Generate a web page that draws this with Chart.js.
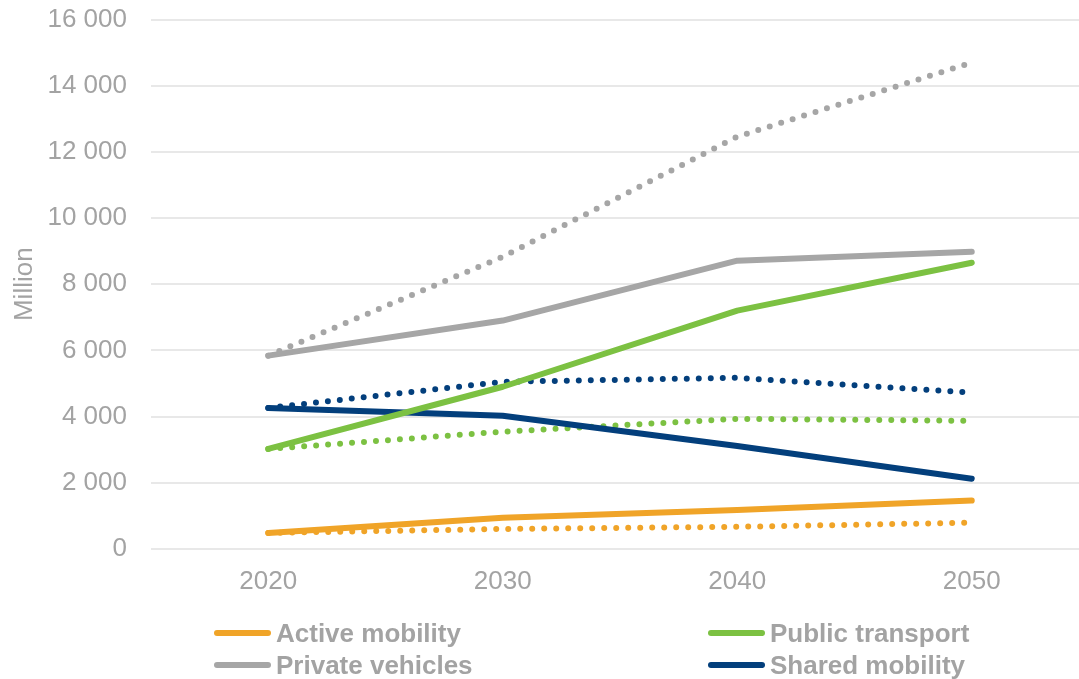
<!DOCTYPE html>
<html>
<head>
<meta charset="utf-8">
<script src="https://cdn.jsdelivr.net/npm/chart.js@4/dist/chart.umd.min.js"></script>
<style>
  html, body { margin: 0; padding: 0; background: #fff; overflow: hidden; }
  #wrap { position: relative; width: 1079px; height: 679px; overflow: hidden; }
  #chart { position: absolute; left: 0; top: -20px; }
  .legend { position: absolute; left: 0; top: 0; width: 1079px; height: 679px; pointer-events: none;
            font-family: "Liberation Sans", Arial, sans-serif; font-weight: bold; font-size: 26px; color: #a3a3a3; }
  .legend .item { position: absolute; display: flex; align-items: center; height: 32px; white-space: nowrap; }
  .legend .swatch { width: 57px; height: 6px; border-radius: 3px; margin-right: 5px; }
</style>
</head>
<body>
<div id="wrap">
  <canvas id="chart" width="1092" height="699"></canvas>
  <div class="legend" id="legend"></div>
</div>
<script>
// Years on the category axis
const years = ['2020', '2030', '2040', '2050'];

// Passenger volumes (million) — solid lines
const activeMobility   = [480, 940, 1170, 1460];
const publicTransport  = [3020, 4900, 7200, 8650];
const privateVehicles  = [5840, 6900, 8710, 8980];
const sharedMobility   = [4260, 4020, 3110, 2120];

// Alternative trajectory — dotted lines
const activeMobilityAlt   = [480, 600, 665, 790];
const publicTransportAlt  = [3020, 3540, 3930, 3870];
const privateVehiclesAlt  = [5840, 8830, 12460, 14700];
const sharedMobilityAlt   = [4260, 5050, 5170, 4720];

// Value axis ticks
const yTicks = [0, 2000, 4000, 6000, 8000, 10000, 12000, 14000, 16000];

const colors = {
  active: '#f0a428',
  publicT: '#7cc142',
  privateV: '#a6a6a6',
  shared: '#033f7c'
};

const solid = (label, data, color) => ({
  label, data, borderColor: color, backgroundColor: color,
  borderWidth: 6, borderCapStyle: 'round', borderJoinStyle: 'round',
  pointRadius: 0, pointHoverRadius: 0, tension: 0, fill: false, inLegend: true
});
const dotted = (label, data, color) => ({
  label, data, borderColor: color, backgroundColor: color,
  borderWidth: 6, borderCapStyle: 'round', borderJoinStyle: 'round',
  borderDash: [0, 12], pointRadius: 0, pointHoverRadius: 0, tension: 0, fill: false, inLegend: false
});

const datasets = [
  solid('Active mobility', activeMobility, colors.active),
  solid('Public transport', publicTransport, colors.publicT),
  solid('Private vehicles', privateVehicles, colors.privateV),
  solid('Shared mobility', sharedMobility, colors.shared),
  dotted('Active mobility (alt.)', activeMobilityAlt, colors.active),
  dotted('Public transport (alt.)', publicTransportAlt, colors.publicT),
  dotted('Private vehicles (alt.)', privateVehiclesAlt, colors.privateV),
  dotted('Shared mobility (alt.)', sharedMobilityAlt, colors.shared)
];

const tickFont = { family: '"Liberation Sans", Arial, sans-serif', size: 26, lineHeight: 1.2 };
const gray = '#a3a3a3';
const fmt = v => String(v).replace(/\B(?=(\d{3})+(?!\d))/g, ' ');

Chart.defaults.font.family = '"Liberation Sans", Arial, sans-serif';

new Chart(document.getElementById('chart'), {
  type: 'line',
  data: { labels: years, datasets },
  options: {
    responsive: false,
    animation: false,
    devicePixelRatio: 1,
    layout: { padding: { top: -16, right: 3, bottom: 73, left: 0 } },
    plugins: { legend: { display: false }, tooltip: { enabled: false }, title: { display: false } },
    scales: {
      x: {
        offset: true,
        grid: { display: false },
        border: { display: false },
        ticks: { color: gray, font: tickFont, padding: 9 }
      },
      y: {
        min: 0, max: 16000,
        afterBuildTicks: s => { s.ticks = yTicks.map(v => ({ value: v })); },
        afterFit: s => { s.width = 151; },
        grid: { color: '#e8e8e8', lineWidth: 2, drawTicks: false },
        border: { display: false },
        ticks: { color: gray, font: tickFont, padding: 24, callback: v => fmt(v) },
        title: { display: true, text: 'Million', color: gray, font: tickFont, padding: { top: 9, bottom: 0 } }
      }
    }
  }
});

// Two-column legend for the solid series
const legend = document.getElementById('legend');
const slots = [[214, 617], [708, 617], [214, 649], [708, 649]];
datasets.filter(d => d.inLegend).forEach((d, i) => {
  const item = document.createElement('div');
  item.className = 'item';
  item.style.left = slots[i][0] + 'px';
  item.style.top = slots[i][1] + 'px';
  const sw = document.createElement('span');
  sw.className = 'swatch';
  sw.style.background = d.borderColor;
  const tx = document.createElement('span');
  tx.textContent = d.label;
  item.appendChild(sw);
  item.appendChild(tx);
  legend.appendChild(item);
});
</script>
</body>
</html>
